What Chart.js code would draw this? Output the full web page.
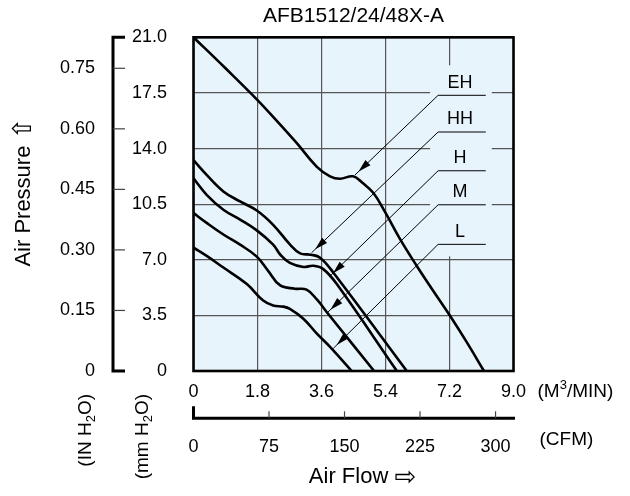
<!DOCTYPE html>
<html>
<head>
<meta charset="utf-8">
<title>AFB1512/24/48X-A</title>
<script src="https://cdn.jsdelivr.net/npm/chart.js@4.4.0/dist/chart.umd.min.js"></script>
<style>
  html, body { margin: 0; padding: 0; background: #fff; }
  #wrap { width: 630px; height: 496px; }
</style>
</head>
<body>
<div id="wrap"><canvas id="fanChart" width="630" height="496"></canvas></div>
<script>
/*
 * Fan P-Q curve, AFB1512/24/48X-A
 * air flow in M3/MIN (bottom), pressure in mm H2O (left)
 */

var CFM_PER_CMM = 35.3147;
var MM_PER_INCH = 25.4;

// axis ticks
var flowTicks = [0, 1.8, 3.6, 5.4, 7.2, 9.0];
var cfmTicks = [0, 75, 150, 225, 300];
var mmTicks = [0, 3.5, 7.0, 10.5, 14.0, 17.5, 21.0];
var inchTicks = [0, 0.15, 0.30, 0.45, 0.60, 0.75];

// speed curves
var speedNames = ['EH', 'HH', 'H', 'M', 'L'];

var ehFlow = [0, 0.9, 1.8, 2.4, 2.9, 3.47, 3.84, 4.12, 4.49, 4.75, 5.06, 5.39, 5.81, 6.28, 6.74, 7.21, 7.68, 8.17];
var ehPressure = [21.0, 19.05, 17.05, 15.6, 14.35, 12.85, 12.25, 12.1, 12.25, 11.85, 11.2, 10.0, 8.3, 6.61, 5.05, 3.49, 1.83, 0];

var hhFlow = [0, 0.37, 0.84, 1.31, 1.78, 2.24, 2.71, 3.0, 3.3, 3.56, 3.93, 6.0];
var hhPressure = [13.27, 12.34, 11.3, 10.67, 10.1, 9.2, 7.97, 7.4, 7.32, 7.13, 6.2, 0];

var hFlow = [0, 0.37, 0.84, 1.31, 1.78, 2.24, 2.45, 2.71, 3.09, 3.37, 3.65, 4.03, 5.72];
var hPressure = [12.12, 11.09, 10.15, 9.53, 8.85, 7.95, 7.3, 6.8, 6.55, 6.62, 6.41, 5.47, 0];

var mFlow = [0, 0.37, 0.84, 1.31, 1.78, 2.1, 2.43, 2.85, 3.18, 3.47, 3.75, 5.08];
var mPressure = [9.94, 9.32, 8.59, 7.95, 7.2, 6.3, 5.4, 5.18, 5.12, 4.5, 3.7, 0];

var lFlow = [0, 0.37, 0.84, 1.5, 1.96, 2.24, 2.53, 2.71, 3.09, 3.47, 3.84, 4.45];
var lPressure = [7.76, 7.24, 6.51, 5.47, 4.43, 4.12, 4.05, 3.91, 3.29, 2.35, 1.52, 0];

// label leaders: underline (flow from..to, pressure) and arrow tip on the curve
var labelLineFlow = [6.88, 8.22];
var labelLinePressure = [17.35, 15.04, 12.6, 10.46, 7.97];
var arrowTipFlow = [4.54, 3.32, 3.82, 3.75, 3.93];
var arrowTipPressure = [12.33, 7.44, 5.93, 3.64, 1.42];

var FONT = '"Liberation Sans", Arial, "DejaVu Sans", sans-serif';
var ARROW_FONT = '"DejaVu Sans", sans-serif';
var PLOT_BG = '#e8f4fc';
var GRID_COLOR = '#555';

function toPoints(xs, ys) {
    return xs.map(function (x, i) { return { x: x, y: ys[i] }; });
}

function fixedTicks(values) {
    return function (scale) {
        scale.ticks = values.map(function (v) { return { value: v }; });
    };
}

function drawArrowHead(ctx, fromX, fromY, tipX, tipY) {
    var ang = Math.atan2(tipY - fromY, tipX - fromX);
    ctx.save();
    ctx.translate(tipX, tipY);
    ctx.rotate(ang);
    ctx.beginPath();
    ctx.moveTo(-5, 0);
    ctx.lineTo(-18, -3.6);
    ctx.lineTo(-18, 3.6);
    ctx.closePath();
    ctx.fill();
    ctx.restore();
}

// parts: [text, size, baseline shift, font family (optional)]
// align: 'left' | 'right' | 'center'
function drawRichText(ctx, parts, x, y, rotated, align) {
    ctx.save();
    ctx.translate(x, y);
    if (rotated) ctx.rotate(-Math.PI / 2);
    var fontOf = function (p) { return p[1] + 'px ' + (p[3] || FONT); };
    var widths = parts.map(function (p) {
        ctx.font = fontOf(p);
        return ctx.measureText(p[0]).width;
    });
    var total = widths.reduce(function (a, b) { return a + b; }, 0);
    var cx = align === 'right' ? -total : (align === 'center' ? -total / 2 : 0);
    ctx.fillStyle = '#000';
    ctx.textAlign = 'left';
    ctx.textBaseline = 'middle';
    parts.forEach(function (p, i) {
        ctx.font = fontOf(p);
        ctx.fillText(p[0], cx, p[2]);
        cx += widths[i];
    });
    ctx.restore();
}

// background of the plot area
var backdropPlugin = {
    id: 'backdrop',
    beforeDraw: function (chart) {
        var ctx = chart.ctx, a = chart.chartArea;
        ctx.save();
        ctx.fillStyle = '#fff';
        ctx.fillRect(0, 0, chart.width, chart.height);
        ctx.fillStyle = PLOT_BG;
        ctx.fillRect(a.left, a.top, a.right - a.left, a.bottom - a.top);
        ctx.restore();
    }
};

// EH / HH / H / M / L labels with leader arrows
var speedLabelPlugin = {
    id: 'speedLabels',
    beforeDatasetsDraw: function (chart) {
        var ctx = chart.ctx, xs = chart.scales.x, ys = chart.scales.y;
        var x0 = xs.getPixelForValue(labelLineFlow[0]);
        var x1 = xs.getPixelForValue(labelLineFlow[1]);
        var yTop = ys.getPixelForValue(labelLinePressure[0]) - 30;
        var yBot = ys.getPixelForValue(labelLinePressure[labelLinePressure.length - 1]) + 12;

        ctx.save();
        // grid is left open behind the labels
        ctx.fillStyle = PLOT_BG;
        ctx.fillRect(x0 - 8, yTop, (x1 - x0) + 14, yBot - yTop);

        ctx.strokeStyle = '#000';
        ctx.fillStyle = '#000';
        ctx.lineWidth = 1;
        ctx.font = '18px ' + FONT;
        ctx.textAlign = 'center';
        ctx.textBaseline = 'middle';
        speedNames.forEach(function (name, i) {
            var ly = ys.getPixelForValue(labelLinePressure[i]);
            var tx = xs.getPixelForValue(arrowTipFlow[i]);
            var ty = ys.getPixelForValue(arrowTipPressure[i]);
            ctx.beginPath();
            ctx.moveTo(x1, ly);
            ctx.lineTo(x0, ly);
            ctx.lineTo(tx, ty);
            ctx.stroke();
            drawArrowHead(ctx, x0, ly, tx, ty);
            ctx.fillText(name, (x0 + x1) / 2 - 2, ly - 12.5);
        });
        ctx.restore();
    },
    afterDatasetsDraw: function (chart) {
        var ctx = chart.ctx, a = chart.chartArea;
        ctx.save();
        ctx.strokeStyle = '#000';
        ctx.lineWidth = 2.6;
        ctx.strokeRect(a.left, a.top, a.right - a.left, a.bottom - a.top);
        ctx.restore();
    }
};

// secondary axis lines, unit labels and axis titles
var axisDecorPlugin = {
    id: 'axisDecor',
    afterDraw: function (chart) {
        var ctx = chart.ctx;
        var inch = chart.scales.inch, cfm = chart.scales.cfm, xs = chart.scales.x;
        var a = chart.chartArea;
        ctx.save();
        ctx.strokeStyle = '#000';

        // IN H2O axis: line with ticks pointing to the right
        var ax = inch.right;
        var yMin = inch.getPixelForValue(0), yMax = inch.getPixelForValue(inch.max);
        ctx.lineWidth = 3;
        ctx.beginPath();
        ctx.moveTo(ax + 12, yMax);
        ctx.lineTo(ax, yMax);
        ctx.lineTo(ax, yMin);
        ctx.lineTo(ax + 12, yMin);
        ctx.stroke();
        ctx.lineWidth = 1.2;
        ctx.strokeStyle = '#444';
        inchTicks.slice(1).forEach(function (v) {
            var py = inch.getPixelForValue(v);
            ctx.beginPath();
            ctx.moveTo(ax, py);
            ctx.lineTo(ax + 12, py);
            ctx.stroke();
        });

        // CFM axis: line with ticks pointing up
        var ay = cfm.top;
        var xMin = cfm.getPixelForValue(0), xMax = cfm.getPixelForValue(cfm.max);
        ctx.strokeStyle = '#000';
        ctx.lineWidth = 3;
        ctx.beginPath();
        ctx.moveTo(xMin, ay - 12);
        ctx.lineTo(xMin, ay);
        ctx.lineTo(xMax + 1.5, ay);
        ctx.stroke();
        ctx.lineWidth = 1.2;
        ctx.strokeStyle = '#444';
        cfmTicks.slice(1).forEach(function (v) {
            var px = cfm.getPixelForValue(v);
            ctx.beginPath();
            ctx.moveTo(px, ay);
            ctx.lineTo(px, ay - 7);
            ctx.stroke();
        });
        ctx.restore();

        // unit labels
        drawRichText(ctx, [['(IN H', 19, 0], ['2', 13, 5], ['O)', 19, 0]], ax - 27, a.bottom + 23, true, 'right');
        drawRichText(ctx, [['(mm H', 19, 0], ['2', 13, 5], ['O)', 19, 0]], ax + 30, a.bottom + 23, true, 'right');
        drawRichText(ctx, [['(M', 19, 0], ['3', 13, -7], ['/MIN)', 19, 0]], xs.right + 24, xs.top + 21, false, 'left');
        drawRichText(ctx, [['(CFM)', 19, 0]], xs.right + 26, cfm.top + 21, false, 'left');

        // axis titles
        drawRichText(ctx, [['Air Flow ', 22, 0], ['\u21E8', 26, 1, ARROW_FONT]],
            (a.left + a.right) / 2 + 9, chart.height - 19, false, 'center');
        drawRichText(ctx, [['Air Pressure ', 22, 0], ['\u21E7', 26, 0, ARROW_FONT]],
            24, (a.top + a.bottom) / 2 - 12, true, 'center');
    }
};

Chart.defaults.font.family = FONT;
Chart.defaults.font.size = 18;
Chart.defaults.color = '#000';

var curveData = [
    toPoints(ehFlow, ehPressure),
    toPoints(hhFlow, hhPressure),
    toPoints(hFlow, hPressure),
    toPoints(mFlow, mPressure),
    toPoints(lFlow, lPressure)
];

var fanChart = new Chart(document.getElementById('fanChart'), {
    type: 'line',
    data: {
        datasets: speedNames.map(function (name, i) {
            return {
                label: name,
                data: curveData[i],
                xAxisID: 'x',
                yAxisID: 'y',
                borderColor: '#000',
                borderWidth: 2.6,
                pointRadius: 0,
                fill: false,
                tension: 0.4
            };
        })
    },
    options: {
        responsive: false,
        maintainAspectRatio: false,
        devicePixelRatio: 1,
        animation: false,
        layout: { padding: { left: 0, right: 116.5, top: 0, bottom: 0 } },
        plugins: {
            legend: { display: false },
            tooltip: { enabled: false },
            title: {
                display: true,
                fullSize: false,
                text: 'AFB1512/24/48X-A',
                color: '#000',
                font: { size: 21, weight: 'normal' },
                padding: { top: 1, bottom: 8.3 }
            }
        },
        scales: {
            x: {
                type: 'linear',
                position: 'bottom',
                weight: 0,
                min: 0,
                max: 9,
                afterBuildTicks: fixedTicks(flowTicks),
                afterFit: function (s) { s.height = 47.3; },
                ticks: {
                    padding: 10,
                    autoSkip: false,
                    maxRotation: 0,
                    callback: function (v) { return v === 0 ? '0' : v.toFixed(1); }
                },
                grid: { drawTicks: false, color: GRID_COLOR, lineWidth: 1.2 },
                border: { display: false }
            },
            cfm: {
                type: 'linear',
                axis: 'x',
                position: 'bottom',
                weight: 1,
                min: 0,
                max: 9 * CFM_PER_CMM,
                afterBuildTicks: fixedTicks(cfmTicks),
                afterFit: function (s) { s.height = 77.7; },
                ticks: { padding: 10, autoSkip: false, maxRotation: 0 },
                grid: { display: false },
                border: { display: false }
            },
            y: {
                type: 'linear',
                position: 'left',
                weight: 1,
                min: 0,
                max: 21,
                afterBuildTicks: fixedTicks(mmTicks),
                afterFit: function (s) { s.width = 80.5; },
                ticks: {
                    padding: 26.5,
                    autoSkip: false,
                    callback: function (v) { return v === 0 ? '0' : v.toFixed(1); }
                },
                grid: { drawTicks: false, color: GRID_COLOR, lineWidth: 1.2 },
                border: { display: false }
            },
            inch: {
                type: 'linear',
                axis: 'y',
                position: 'left',
                weight: 2,
                min: 0,
                max: 21 / MM_PER_INCH,
                afterBuildTicks: fixedTicks(inchTicks),
                afterFit: function (s) { s.width = 113; },
                ticks: {
                    padding: 10,
                    autoSkip: false,
                    callback: function (v) { return v === 0 ? '0' : v.toFixed(2); }
                },
                grid: { display: false },
                border: { display: false }
            }
        }
    },
    plugins: [backdropPlugin, speedLabelPlugin, axisDecorPlugin]
});
</script>
</body>
</html>
